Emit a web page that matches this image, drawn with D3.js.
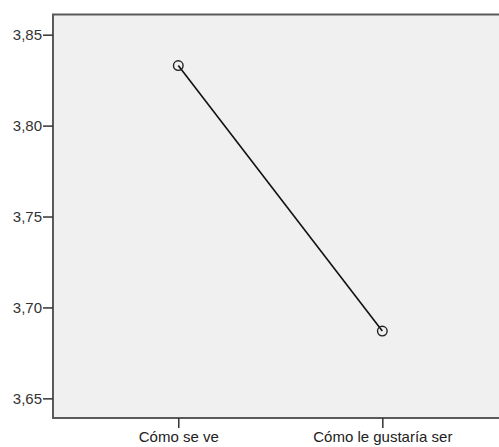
<!DOCTYPE html>
<html><head><meta charset="utf-8">
<script src="https://cdn.jsdelivr.net/npm/d3@7"></script>
<style>body{margin:0;background:#fff}</style>
</head><body>
<svg id="c" width="499" height="447"></svg>
<script>
const categories = ["Cómo se ve", "Cómo le gustaría ser"];
const values = [3.833, 3.687];
const yTicks = [3.65, 3.70, 3.75, 3.80, 3.85];

const svg = d3.select("#c");
const L = 53, R = 507.6, T = 14.5, B = 418;
const x = d3.scalePoint().domain(categories).range([L, R]).padding(0.614);
const y = d3.scaleLinear().domain([3.6392, 3.8611]).range([B, T]);

svg.append("rect").attr("x", L).attr("y", T).attr("width", R - L).attr("height", B - T)
  .attr("fill", "#f0f0f0").attr("stroke", "#5a5a5a").attr("stroke-width", 2);

const font = "Arial, 'Liberation Sans', sans-serif";
const fmt = d => d3.format(".2f")(d).replace(".", ",");
const ya = svg.append("g").attr("transform", `translate(${L},0)`)
  .call(d3.axisLeft(y).tickValues(yTicks).tickFormat(fmt).tickSize(10).tickPadding(1));
ya.select(".domain").remove();
ya.selectAll("line").attr("stroke", "#333").attr("stroke-width", 1.5);
ya.selectAll("text").attr("fill", "#333").style("font-family", font).style("font-size", "15px");

const xa = svg.append("g").attr("transform", `translate(0,${B})`)
  .call(d3.axisBottom(x).tickSize(10).tickPadding(3));
xa.select(".domain").remove();
xa.selectAll("line").attr("stroke", "#333").attr("stroke-width", 1.5);
xa.selectAll("text").attr("fill", "#222").style("font-family", font).style("font-size", "15px");

const data = categories.map((c, i) => ({c, v: values[i]}));
svg.append("path").datum(data)
  .attr("d", d3.line().x(d => x(d.c)).y(d => y(d.v)))
  .attr("fill", "none").attr("stroke", "#111").attr("stroke-width", 1.6);
svg.selectAll("circle.pt").data(data).join("circle").attr("class", "pt")
  .attr("cx", d => x(d.c)).attr("cy", d => y(d.v)).attr("r", 4.8)
  .attr("fill", "none").attr("stroke", "#222").attr("stroke-width", 1.4);
</script>
</body></html>
